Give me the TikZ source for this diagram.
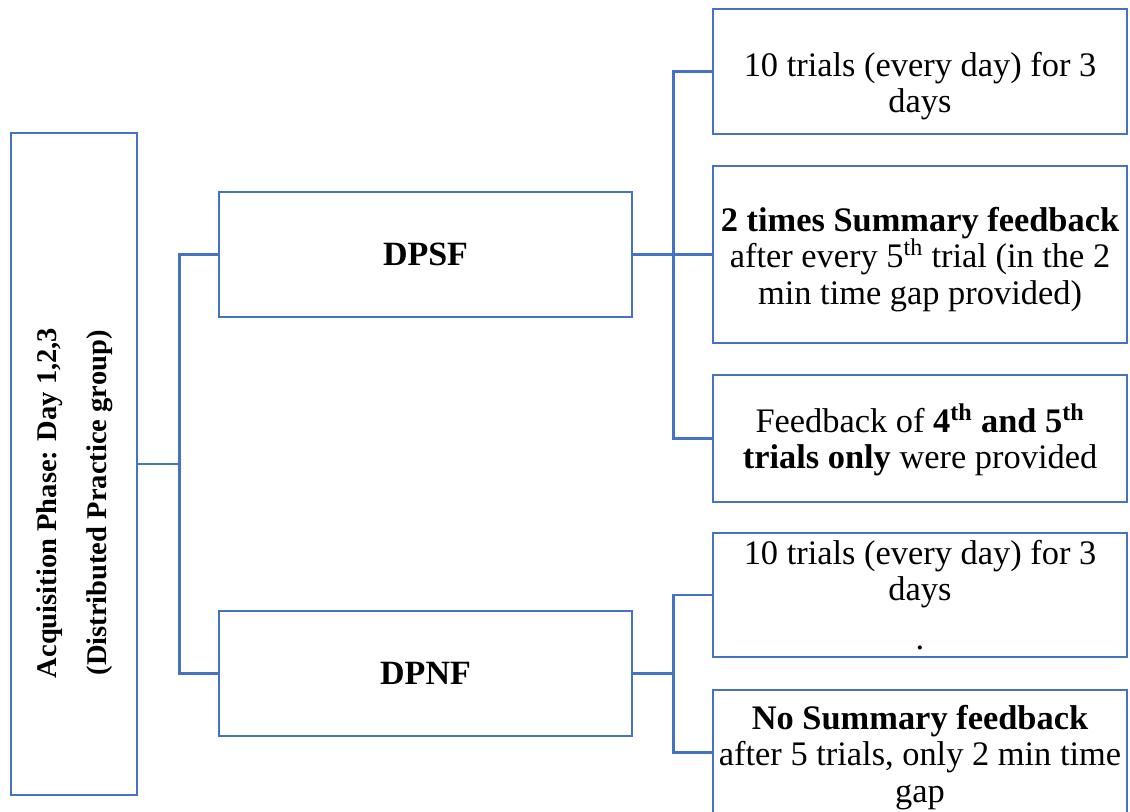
\documentclass[tikz,border=0pt]{standalone}
\usepackage{fontspec}
\setmainfont{Liberation Serif}
\definecolor{boxblue}{RGB}{68,114,196}
\begin{document}
\begin{tikzpicture}[x=0.75pt,y=0.75pt,yscale=-1,xscale=1,
    box/.style={draw=boxblue,line width=2pt,rectangle,inner sep=2pt,align=center,font=\fontsize{25.8}{27.3}\selectfont},
    groupbox/.style={box,minimum width=309.75pt,minimum height=93.75pt,font=\fontsize{25.5}{27}\selectfont\bfseries},
    detail/.style={box,minimum width=310.5pt},
    link/.style={draw=boxblue,line width=2pt}]
            \useasboundingbox (0,0) rectangle (1130,812);
            \clip (0,0) rectangle (1130,812);
            \node[box,minimum width=94.5pt,minimum height=496.5pt] (acq) at (74,464) {};
            \node[rotate=90,align=center,font=\fontsize{21.4}{37.8}\selectfont\bfseries] (acqtext) at (75,503) {Acquisition Phase: Day 1,2,3\\(Distributed Practice group)};
            \node[groupbox] (dpsf) at (425.5,254.5) {DPSF};
            \node[groupbox] (dpnf) at (425.5,673.5) {DPNF};
            \node[detail,minimum height=93.75pt] (sf1) at (920,71.5) {\rule{0pt}{40pt}10 trials (every day) for 3\\days};
            \node[detail,minimum height=132.75pt] (sf2) at (920,254.5) {\rule{0pt}{25.5pt}\textbf{2 times Summary feedback}\\after every 5\textsuperscript{th} trial (in the 2\\min time gap provided)};
            \node[detail,minimum height=95.25pt] (sf3) at (920,438.5) {\rule{0pt}{24pt}Feedback of \textbf{4\textsuperscript{th} and 5\textsuperscript{th}}\\\textbf{trials only} were provided};
            \node[detail,minimum height=93pt] (nf1) at (920,595) {10 trials (every day) for 3\\days\\[9pt].};
            \node[detail,minimum height=93.75pt] (nf2) at (920,752.5) {\rule{0pt}{25.5pt}\textbf{No Summary feedback}\\after 5 trials, only 2 min time\\gap};
            \draw[link] (acq.east) -- ++(41,0) |- (dpsf.west);
            \draw[link] (acq.east) -- ++(41,0) |- (dpnf.west);
            \draw[link] (dpsf.east) -- ++(40,0) |- (sf1.west);
            \draw[link] (dpsf.east) -- (sf2.west);
            \draw[link] (dpsf.east) -- ++(40,0) |- (sf3.west);
            \draw[link] (dpnf.east) -- ++(40,0) |- (nf1.west);
            \draw[link] (dpnf.east) -- ++(40,0) |- (nf2.west);
        \end{tikzpicture}
\end{document}
